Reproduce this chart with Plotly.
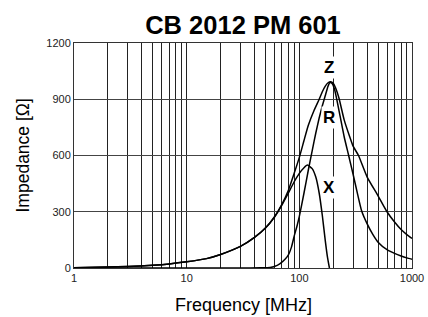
import math
import plotly.graph_objects as go

# ---- data ----
freq_z = [1, 2, 3, 5, 7, 10, 15, 20, 30, 40, 50, 60, 70, 80, 90, 100, 110, 120, 135, 150,
          160, 170, 180, 190, 200, 210, 225, 250, 280, 300, 335, 400, 500, 600, 700, 800, 900, 1000]
imp_z = [2, 5, 8, 15, 22, 33, 50, 72, 115, 163, 213, 272, 340, 415, 505, 590, 680, 760, 840, 900,
         940, 970, 988, 993, 985, 960, 905, 790, 700, 650, 600, 485, 385, 300, 245, 205, 178, 158]

freq_r = [1, 10, 30, 45, 55, 60, 67, 75, 80, 85, 90, 95, 100, 110, 120, 130, 140, 150, 160, 170,
          178, 186, 195, 205, 214, 230, 250, 274, 300, 330, 357, 400, 450, 500, 600, 700, 800, 900, 1000]
imp_r = [0, 0, 0, 1, 3, 8, 22, 48, 70, 110, 170, 220, 275, 400, 520, 625, 720, 800, 865, 920,
         962, 988, 985, 955, 905, 810, 700, 600, 500, 390, 305, 235, 178, 138, 98, 78, 64, 54, 47]

freq_x = [1, 2, 3, 5, 7, 10, 15, 20, 30, 40, 50, 60, 70, 80, 90, 100, 110, 118, 130, 140,
          150, 160, 170, 178, 185]
imp_x = [2, 5, 8, 15, 22, 33, 50, 72, 115, 163, 213, 270, 335, 400, 460, 505, 535, 549, 530, 485,
         400, 280, 145, 55, 0]

x_tickvals = [1, 2, 3, 4, 5, 6, 7, 8, 9,
              10, 20, 30, 40, 50, 60, 70, 80, 90,
              100, 200, 300, 400, 500, 600, 700, 800, 900, 1000]
x_ticktext = [str(v) if v in (1, 10, 100, 1000) else "" for v in x_tickvals]
y_tickvals = [0, 300, 600, 900, 1200]

labels = ["Z", "R", "X"]
label_freq = [183, 183, 183]
label_imp = [1067, 805, 427]

FONT = "Arial, Liberation Sans, sans-serif"

fig = go.Figure()
for fx, fy in [(freq_z, imp_z), (freq_r, imp_r), (freq_x, imp_x)]:
    fig.add_trace(go.Scatter(
        x=fx, y=fy, mode="lines",
        line=dict(color="black", width=1.5, shape="spline", smoothing=0.5),
        showlegend=False, hoverinfo="skip", cliponaxis=True,
    ))

for t, f, v in zip(labels, label_freq, label_imp):
    fig.add_annotation(x=math.log10(f), y=v, xref="x", yref="y", text="<b>%s</b>" % t,
                       showarrow=False, font=dict(family=FONT, size=17, color="black"),
                       bgcolor="white", borderpad=1)

fig.add_annotation(x=0.5, y=0, xref="paper", yref="paper", yshift=-37, yanchor="middle",
                   text="Frequency [MHz]", showarrow=False,
                   font=dict(family=FONT, size=18, color="black"))
fig.add_annotation(x=0, y=0.5, xref="paper", yref="paper", xshift=-52, xanchor="center",
                   yanchor="middle", textangle=-90,
                   text="Impedance [Ω]", showarrow=False,
                   font=dict(family=FONT, size=17.5, color="black"))

fig.update_layout(
    width=428, height=317, autosize=False,
    margin=dict(l=74, r=16, t=43, b=49),
    paper_bgcolor="white", plot_bgcolor="white",
    title=dict(text="<b>CB 2012 PM 601</b>", x=0.5, xref="paper", xanchor="center",
               y=1 - 25 / 317, yref="container", yanchor="middle",
               font=dict(family=FONT, size=25.5, color="black")),
    font=dict(family=FONT, size=11, color="#222"),
)
fig.update_xaxes(type="log", range=[0, 3], tickvals=x_tickvals, ticktext=x_ticktext,
                 automargin=False,
                 showgrid=True, gridcolor="#222", gridwidth=1, ticks="",
                 showline=True, linecolor="#333", linewidth=1, mirror=True,
                 zeroline=False, tickfont=dict(family=FONT, size=11, color="#222"))
fig.update_yaxes(range=[0, 1200], tickvals=y_tickvals, automargin=False,
                 showgrid=True, gridcolor="#444", gridwidth=1, ticks="",
                 showline=True, linecolor="#333", linewidth=1, mirror=True,
                 zeroline=False, tickfont=dict(family=FONT, size=11, color="#222"))

fig.write_html("out.html",
               config={"displayModeBar": False, "responsive": False},
               post_script="document.body.style.margin='0';document.body.style.padding='0';"
                           "document.body.style.overflow='hidden';"
                           "document.documentElement.style.overflow='hidden';")
